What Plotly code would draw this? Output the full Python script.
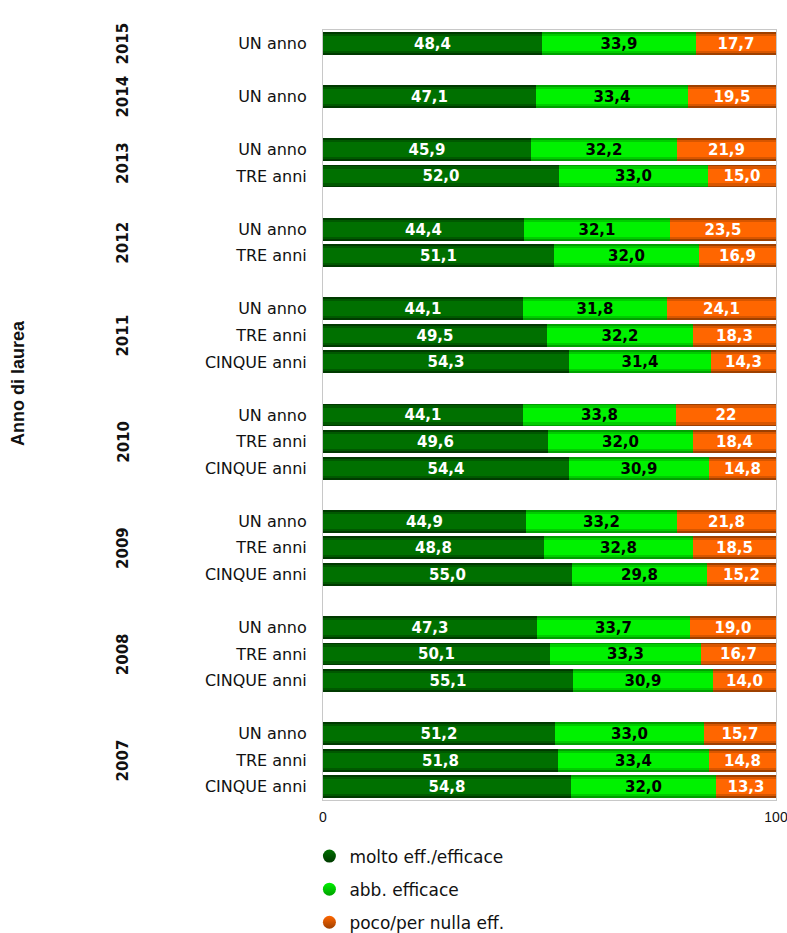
import plotly.graph_objects as go

# ---- data ----
years = [2015, 2014, 2013, 2013, 2012, 2012,
         2011, 2011, 2011, 2010, 2010, 2010,
         2009, 2009, 2009, 2008, 2008, 2008,
         2007, 2007, 2007]
durations = ["UN anno", "UN anno", "UN anno", "TRE anni", "UN anno", "TRE anni",
             "UN anno", "TRE anni", "CINQUE anni", "UN anno", "TRE anni", "CINQUE anni",
             "UN anno", "TRE anni", "CINQUE anni", "UN anno", "TRE anni", "CINQUE anni",
             "UN anno", "TRE anni", "CINQUE anni"]
molto = [48.4, 47.1, 45.9, 52.0, 44.4, 51.1, 44.1, 49.5, 54.3, 44.1, 49.6, 54.4,
         44.9, 48.8, 55.0, 47.3, 50.1, 55.1, 51.2, 51.8, 54.8]
abb = [33.9, 33.4, 32.2, 33.0, 32.1, 32.0, 31.8, 32.2, 31.4, 33.8, 32.0, 30.9,
       33.2, 32.8, 29.8, 33.7, 33.3, 30.9, 33.0, 33.4, 32.0]
poco = [17.7, 19.5, 21.9, 15.0, 23.5, 16.9, 24.1, 18.3, 14.3, 22, 18.4, 14.8,
        21.8, 18.5, 15.2, 19.0, 16.7, 14.0, 15.7, 14.8, 13.3]
series_names = ["molto eff./efficace", "abb. efficace", "poco/per nulla eff."]
x_ticks = [0, 100]

# ---- styling ----
# (edge, mid, main) tones to imitate the gradient
palettes = [
    ("#003a00", "#005800", "#007000"),
    ("#00a000", "#00cc00", "#00f200"),
    ("#9e4000", "#d85600", "#ff6600"),
]
text_colors = ["white", "black", "white"]
FONT = "DejaVu Sans"


def fmt(v):
    if isinstance(v, int):
        return str(v)
    return f"{v:.1f}".replace(".", ",")


# row positions: one blank slot between year groups
pos = []
slot = 0
for i, yr in enumerate(years):
    if i > 0 and yr != years[i - 1]:
        slot += 1
    pos.append(slot)
    if i < len(years) - 1:
        slot += 1
n_slots = pos[-1] + 1

fig = go.Figure()

series = [molto, abb, poco]
base = [0.0] * len(years)
widths = [0.86, 0.72, 0.56]
for s, vals in enumerate(series):
    for li, w in enumerate(widths):
        last = li == len(widths) - 1
        fig.add_trace(go.Bar(
            y=pos, x=vals, base=base, orientation="h", width=w,
            marker=dict(color=palettes[s][li], line=dict(width=0)),
            text=[fmt(v) for v in vals] if last else None,
            textposition="inside" if last else None,
            insidetextanchor="middle",
            constraintext="none",
            textfont=dict(family=FONT, size=15, color=text_colors[s], weight="bold"),
            showlegend=False, hoverinfo="skip",
        ))
    base = [b + v for b, v in zip(base, vals)]

# legend entries (circles)
for s, name in enumerate(series_names):
    fig.add_trace(go.Scatter(
        x=[None], y=[None], mode="markers", name=name,
        marker=dict(symbol="circle", size=13, color=palettes[s][2],
                    gradient=dict(type="vertical", color=palettes[s][0]),
                    line=dict(width=0)),
        legendgroup=name,
    ))

# year labels
for yr in dict.fromkeys(years):
    ps = [p for p, y in zip(pos, years) if y == yr]
    fig.add_annotation(
        x=-0.441, xref="paper", xanchor="center",
        y=(min(ps) + max(ps)) / 2, yref="y", yanchor="middle",
        text=str(yr), showarrow=False, textangle=-90,
        font=dict(family=FONT, size=15, color="#111", weight="bold"),
    )

fig.add_annotation(
    x=-0.673, xref="paper", xanchor="center",
    y=0.5416, yref="paper", yanchor="middle",
    text="Anno di laurea", showarrow=False, textangle=-90,
    font=dict(family="Liberation Sans", size=18, color="#111", weight="bold"),
)

fig.update_layout(
    width=787, height=933,
    margin=dict(l=323, r=11, t=30, b=133, autoexpand=False),
    paper_bgcolor="white", plot_bgcolor="white",
    barmode="overlay", bargap=0,
    showlegend=True,
    legend=dict(
        orientation="v", x=-0.03, xanchor="left", y=-0.05, yanchor="top",
        font=dict(family=FONT, size=17, color="#111"),
        tracegroupgap=8, bgcolor="rgba(0,0,0,0)",
    ),
    xaxis=dict(
        range=[0, 100], tickvals=x_ticks, ticktext=[str(t) for t in x_ticks],
        showgrid=False, zeroline=False, showline=True, mirror=True,
        linecolor="#c8c8c8", linewidth=1, ticks="", automargin=False,
        ticklabelstandoff=4, ticklabeloverflow="allow",
        tickfont=dict(family="Liberation Sans", size=14, color="#111"),
    ),
    yaxis=dict(
        range=[n_slots - 0.5, -0.5], tickvals=pos, ticktext=durations,
        showgrid=False, zeroline=False, showline=True, mirror=True,
        linecolor="#c8c8c8", linewidth=1, ticks="", ticklabelstandoff=12,
        automargin=False,
        tickfont=dict(family=FONT, size=16, color="#111"),
    ),
)

# remove the default page margin so the figure fills the window exactly
fig.write_html(
    "out.html",
    config={"displayModeBar": False},
    post_script="document.body.style.margin='0';document.body.style.overflow='hidden';",
)
